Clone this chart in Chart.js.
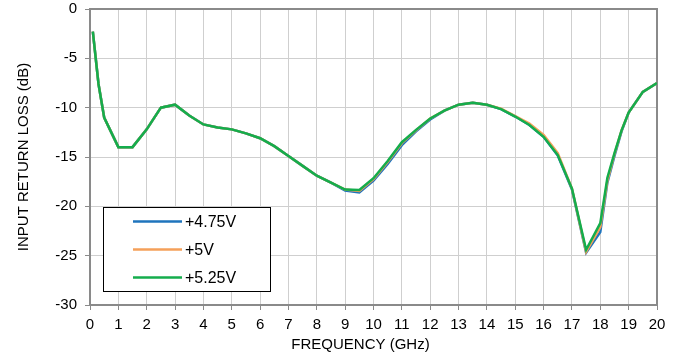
<!DOCTYPE html>
<html>
<head>
<meta charset="utf-8">
<script src="https://cdn.jsdelivr.net/npm/chart.js@4/dist/chart.umd.min.js"></script>
<style>
  html, body { margin: 0; padding: 0; background: #fff; }
  #wrap { width: 679px; height: 357px; }
</style>
</head>
<body>
<div id="wrap"><canvas id="rlChart"></canvas></div>
<script>
// Input return loss vs frequency, three supply voltages

const freqGHz = [0.1, 0.3, 0.5, 1, 1.5, 2, 2.5, 3, 3.5, 4, 4.5, 5, 5.5, 6, 6.5, 7, 7.5, 8, 8.5, 9, 9.5, 10,
    10.5, 11, 11.5, 12, 12.5, 13, 13.5, 14, 14.5, 15, 15.5, 16, 16.5, 17, 17.5, 18, 18.25, 18.5, 18.75, 19, 19.5, 20];

const loss475 = [-2.3, -7.6, -11.0, -14.0, -14.0, -12.2, -10.0, -9.7, -10.8, -11.7, -12.0, -12.2, -12.6, -13.1,
    -13.9, -14.9, -15.9, -16.9, -17.6, -18.4, -18.6, -17.4, -15.7, -13.8, -12.4, -11.2, -10.3, -9.7, -9.5, -9.7,
    -10.15, -10.9, -11.75, -12.95, -14.85, -18.3, -24.7, -22.6, -17.6, -14.9, -12.4, -10.5, -8.4, -7.5];

const loss500 = [-2.3, -7.6, -11.0, -14.0, -14.0, -12.2, -10.0, -9.7, -10.8, -11.7, -12.0, -12.2, -12.6, -13.1,
    -13.9, -14.9, -15.9, -16.9, -17.6, -18.3, -18.45, -17.25, -15.5, -13.6, -12.3, -11.1, -10.3, -9.7, -9.5, -9.7,
    -10.1, -10.85, -11.6, -12.75, -14.6, -18.2, -24.6, -22.1, -17.4, -14.7, -12.3, -10.5, -8.4, -7.5];

const loss525 = [-2.3, -7.6, -11.0, -14.0, -14.0, -12.2, -10.0, -9.7, -10.8, -11.7, -12.0, -12.2, -12.6, -13.1,
    -13.9, -14.9, -15.9, -16.9, -17.6, -18.3, -18.35, -17.15, -15.4, -13.5, -12.25, -11.1, -10.3, -9.7, -9.5, -9.7,
    -10.15, -10.9, -11.75, -12.95, -14.8, -18.2, -24.4, -21.7, -17.1, -14.6, -12.3, -10.5, -8.4, -7.5];

const seriesLabels = ['+4.75V', '+5V', '+5.25V'];
const seriesColors = ['#1f74bd', '#f5a05a', '#14ad4c'];

const FONT = 'Liberation Sans, Arial, sans-serif';

function toPoints(values) {
    return freqGHz.map((f, i) => ({ x: f, y: values[i] }));
}

// frame round the plot area
const framePlugin = {
    id: 'frame',
    beforeDatasetsDraw(chart) {
        const { ctx, chartArea: a } = chart;
        ctx.save();
        ctx.strokeStyle = '#8a8a8a';
        ctx.lineWidth = 2;
        ctx.strokeRect(a.left, a.top, a.right - a.left, a.bottom - a.top);
        ctx.restore();
    }
};

// x title drawn a bit left of centre, as in the original
const xTitlePlugin = {
    id: 'xTitle',
    afterDraw(chart) {
        const { ctx, chartArea: a } = chart;
        ctx.save();
        ctx.font = '15px ' + FONT;
        ctx.fillStyle = '#000';
        ctx.textAlign = 'center';
        ctx.textBaseline = 'middle';
        ctx.fillText('FREQUENCY (GHz)', (a.left + a.right) / 2 - 13, a.bottom + 40);
        ctx.restore();
    }
};

// boxed legend inside the plot, lower left
const boxLegend = {
    id: 'boxLegend',
    afterDraw(chart) {
        const { ctx } = chart;
        const bx = 103.5, by = 207.5, bw = 167, bh = 84;
        ctx.save();
        ctx.fillStyle = '#fff';
        ctx.fillRect(bx, by, bw, bh);
        ctx.strokeStyle = '#000';
        ctx.lineWidth = 1;
        ctx.strokeRect(bx, by, bw, bh);
        ctx.font = '16px ' + FONT;
        ctx.textBaseline = 'middle';
        chart.data.datasets.forEach((ds, i) => {
            const y = 221.5 + i * 28;
            ctx.strokeStyle = ds.borderColor;
            ctx.lineWidth = 2.5;
            ctx.beginPath();
            ctx.moveTo(133, y);
            ctx.lineTo(182, y);
            ctx.stroke();
            ctx.fillStyle = '#000';
            ctx.fillText(ds.label, 185, y + 1);
        });
        ctx.restore();
    }
};

// first series underneath, last on top
const datasets = [loss475, loss500, loss525].map((vals, i) => ({
    label: seriesLabels[i],
    data: toPoints(vals),
    borderColor: seriesColors[i],
    backgroundColor: seriesColors[i],
    borderWidth: 2.5,
    pointRadius: 0,
    tension: 0,
    fill: false,
    order: 3 - i
}));

new Chart(document.getElementById('rlChart'), {
    type: 'line',
    data: { datasets: datasets },
    options: {
        responsive: true,
        maintainAspectRatio: false,
        animation: false,
        layout: { padding: { top: 9, right: 22, left: 0, bottom: 0 } },
        plugins: {
            legend: { display: false },
            tooltip: { enabled: false }
        },
        scales: {
            x: {
                type: 'linear',
                min: 0,
                max: 20,
                afterFit: (scale) => {
                    scale.height = 52;
                    scale.paddingLeft = 0;
                    scale.paddingRight = 0;
                },
                ticks: {
                    stepSize: 1,
                    color: '#000',
                    padding: 6,
                    maxRotation: 0,
                    font: { family: FONT, size: 15 }
                },
                grid: { color: '#cfcfcf', tickColor: '#8a8a8a', tickLength: 5 },
                border: { display: false }
            },
            y: {
                min: -30,
                max: 0,
                afterFit: (scale) => {
                    scale.width = 90;
                    scale.paddingTop = 0;
                    scale.paddingBottom = 0;
                },
                ticks: {
                    stepSize: 5,
                    color: '#000',
                    padding: 8,
                    font: { family: FONT, size: 15 }
                },
                grid: { color: '#cfcfcf', tickColor: '#8a8a8a', tickLength: 5 },
                border: { display: false },
                title: {
                    display: true,
                    text: 'INPUT RETURN LOSS (dB)',
                    color: '#000',
                    font: { family: FONT, size: 15 },
                    padding: { top: 15, bottom: 0 }
                }
            }
        }
    },
    plugins: [framePlugin, boxLegend, xTitlePlugin]
});
</script>
</body>
</html>
